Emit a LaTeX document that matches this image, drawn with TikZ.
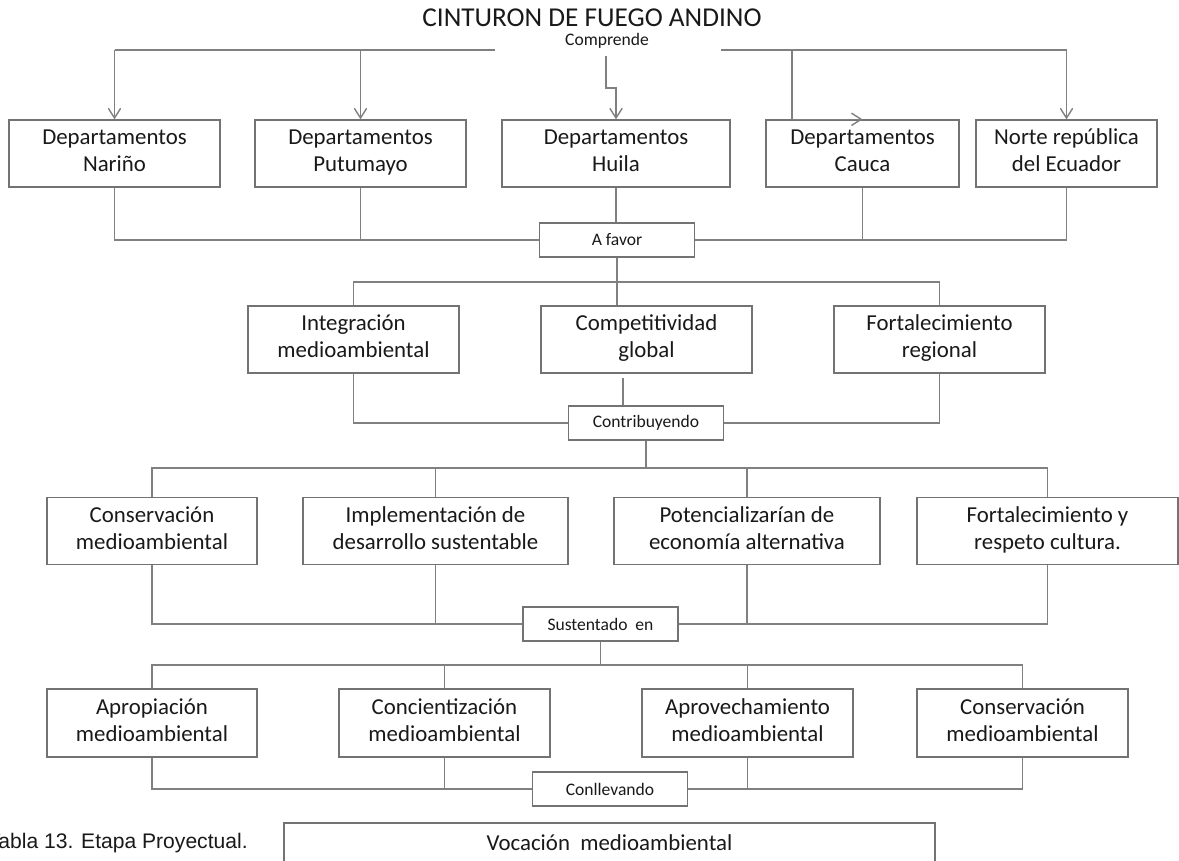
\documentclass[tikz,border=0pt]{standalone}
\usepackage{fontspec}
\setmainfont{Carlito}
\newfontfamily\piefont{Liberation Sans}
\usetikzlibrary{arrows.meta}

\begin{document}
\begin{tikzpicture}[x=0.02cm,y=-0.02cm,
	linea/.style={draw=black!50, line width=0.8pt},
	flecha/.style={linea, -{Straight Barb[length=5.5pt,width=7pt]}},
	caja/.style={draw=black!55, line width=0.8pt, fill=white, text=black!90, align=center, inner sep=0pt, minimum height=1.34cm, font=\fontsize{13}{15.3}\selectfont, execute at begin node={\rule{0pt}{13.5pt}}, execute at end node={\rule[-3.5pt]{0pt}{3.5pt}}},
	etiqueta/.style={draw=black!55, line width=0.8pt, fill=white, text=black!90, inner sep=0pt, minimum height=0.68cm, minimum width=3.1cm, font=\fontsize{10}{12}\selectfont}]
	\useasboundingbox (0,0) rectangle (1179,860);
	% titulo
	\node [font=\fontsize{15.5}{18}\selectfont, text=black!90] (titulo) at (592,18) {CINTURON DE FUEGO ANDINO};
	\node [font=\fontsize{10}{12}\selectfont, text=black!90] (comprende) at (607,41) {Comprende};
	% primera fila
	\node [caja, minimum width=4.22cm] (narino) at (114.5,153.5) {Departamentos\\Nariño};
	\node [caja, minimum width=4.22cm] (putumayo) at (360.5,153.5) {Departamentos\\Putumayo};
	\node [caja, minimum width=4.56cm] (huila) at (616,153.5) {Departamentos\\Huila};
	\node [caja, minimum width=3.86cm] (cauca) at (862.5,153.5) {Departamentos\\Cauca};
	\node [caja, minimum width=3.62cm] (norte) at (1066.5,153.5) {Norte república\\del Ecuador};
	\coordinate (ti) at (114.5,50);
	\coordinate (tm1) at (495,50);
	\coordinate (tm2) at (721,50);
	\coordinate (td) at (1066.5,50);
	\coordinate (cc) at (792,50);
	\coordinate (zz) at (606,56);
	\draw [linea] (ti) -- (tm1);
	\draw [linea] (tm2) -- (td);
	\draw [flecha] (ti) -- (narino.north);
	\draw [flecha] (ti -| putumayo.north) -- (putumayo.north);
	\draw [flecha] (zz) -- ++(0,32) -| (huila.north);
	\draw [flecha] (cc) |- (cauca.north);
	\draw [flecha] (td) -- (norte.north);
	\node [etiqueta] (afavor) at (617,240) {A favor};
	\draw [linea] (narino.south) |- (afavor.west);
	\draw [linea] (putumayo.south) -- (putumayo.south |- afavor.west);
	\draw [linea] (huila.south) -- (huila.south |- afavor.north);
	\draw [linea] (cauca.south) -- (cauca.south |- afavor.east);
	\draw [linea] (norte.south) |- (afavor.east);
	% segunda fila
	\node [caja, minimum width=4.22cm] (integ) at (353.5,339.5) {Integración\\medioambiental};
	\node [caja, minimum width=4.22cm] (compet) at (646.5,339.5) {Competitividad\\global};
	\node [caja, minimum width=4.22cm] (forta) at (939.5,339.5) {Fortalecimiento\\regional};
	\coordinate (b2) at (0,282);
	\draw [linea] (afavor.south) -- (afavor.south |- compet.north);
	\draw [linea] (integ.north) |- (b2 -| forta.north) -- (forta.north);
	\node [etiqueta] (contrib) at (646,423) {Contribuyendo};
	\coordinate (stub) at (623,378);
	\draw [linea] (stub) -- (stub |- contrib.north);
	\draw [linea] (integ.south) |- (contrib.west);
	\draw [linea] (forta.south) |- (contrib.east);
	% tercera fila
	\node [caja, minimum width=4.2cm] (conserv) at (152,531) {Conservación\\medioambiental};
	\node [caja, minimum width=5.3cm] (implem) at (435.5,531) {Implementación de\\desarrollo sustentable};
	\node [caja, minimum width=5.32cm] (poten) at (747,531) {Potencializarían de\\economía alternativa};
	\node [caja, minimum width=5.22cm] (fortres) at (1047.5,531) {Fortalecimiento y\\respeto cultura.};
	\coordinate (b3) at (0,468);
	\draw [linea] (contrib.south) -- (contrib.south |- b3);
	\draw [linea] (conserv.north) |- (b3 -| fortres.north) -- (fortres.north);
	\draw [linea] (implem.north) -- (implem.north |- b3);
	\draw [linea] (poten.north) -- (poten.north |- b3);
	\node [etiqueta] (sust) at (600.5,624) {Sustentado\ \ en};
	\draw [linea] (conserv.south) |- (sust.west);
	\draw [linea] (implem.south) -- (implem.south |- sust.west);
	\draw [linea] (poten.south) -- (poten.south |- sust.east);
	\draw [linea] (fortres.south) |- (sust.east);
	% cuarta fila
	\node [caja, minimum width=4.2cm, minimum height=1.36cm] (aprop) at (152,723) {Apropiación\\medioambiental};
	\node [caja, minimum width=4.22cm, minimum height=1.36cm] (concien) at (444.5,723) {Concientización\\medioambiental};
	\node [caja, minimum width=4.22cm, minimum height=1.36cm] (aprov) at (747.5,723) {Aprovechamiento\\medioambiental};
	\node [caja, minimum width=4.22cm, minimum height=1.36cm] (conserv2) at (1022.5,723) {Conservación\\medioambiental};
	\coordinate (b4) at (0,665);
	\draw [linea] (sust.south) -- (sust.south |- b4);
	\draw [linea] (aprop.north) |- (b4 -| conserv2.north) -- (conserv2.north);
	\draw [linea] (concien.north) -- (concien.north |- b4);
	\draw [linea] (aprov.north) -- (aprov.north |- b4);
	\node [etiqueta] (conllev) at (610,789) {Conllevando};
	\draw [linea] (aprop.south) |- (conllev.west);
	\draw [linea] (concien.south) -- (concien.south |- conllev.west);
	\draw [linea] (aprov.south) -- (aprov.south |- conllev.east);
	\draw [linea] (conserv2.south) |- (conllev.east);
	% cierre
	\node [draw=black!55, line width=0.8pt, text=black!90, inner sep=0pt, minimum width=13.02cm, minimum height=0.8cm, font=\fontsize{13}{15.3}\selectfont] (vocacion) at (609.5,843) {Vocación\ \ medioambiental};
	\node [anchor=east, inner sep=0pt, text=black!90, font=\piefont\fontsize{12}{14}\selectfont] (tabla) at (248,843) {Tabla 13. Etapa Proyectual.};
\end{tikzpicture}
\end{document}
